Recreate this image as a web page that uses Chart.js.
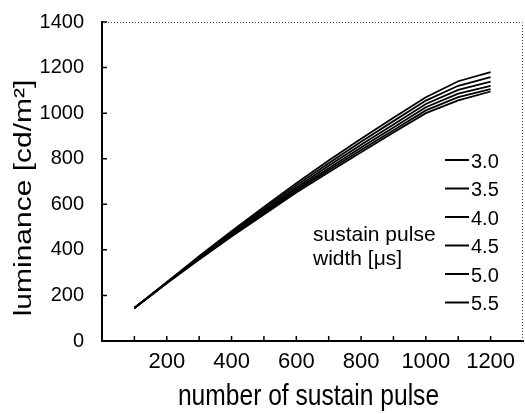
<!DOCTYPE html>
<html>
<head>
<meta charset="utf-8">
<script src="https://cdn.jsdelivr.net/npm/chart.js@4"></script>
<style>
  html, body { margin: 0; padding: 0; background: #fff; }
  #wrap { width: 525px; height: 414px; }
</style>
</head>
<body>
<div id="wrap"><canvas id="lumChart" width="525" height="414"></canvas></div>
<script>
// ---- data ----
const pulses = [100, 200, 300, 400, 500, 600, 700, 800, 900, 1000, 1100, 1200];
const widthLabels = ['3.0', '3.5', '4.0', '4.5', '5.0', '5.5'];
const lum30 = [145, 258, 372, 482, 588, 692, 792, 888, 980, 1070, 1140, 1180];
const lum35 = [145, 257, 369, 477, 581, 683, 780, 874, 965, 1055, 1120, 1158];
const lum40 = [145, 256, 366, 472, 574, 674, 769, 861, 950, 1040, 1102, 1138];
const lum45 = [145, 255, 363, 467, 567, 666, 758, 849, 937, 1026, 1086, 1120];
const lum50 = [145, 254, 361, 463, 561, 659, 749, 838, 925, 1012, 1070, 1105];
const lum55 = [145, 253, 358, 459, 555, 652, 741, 828, 915, 1000, 1056, 1095];
const xTitle = 'number of sustain pulse';
const yTitle = 'luminance [cd/m\u00B2]';
const legendTitle = ['sustain pulse', 'width [\u03BCs]'];

const FONT = "'Liberation Sans', Arial, sans-serif";
const series = [lum30, lum35, lum40, lum45, lum50, lum55];

// ticks pointing into the plot, frame on top/right, titles, legend
const decorations = {
    id: 'decorations',
    afterDraw(chart) {
        const { ctx, chartArea: a, scales: { x, y } } = chart;
        ctx.save();

        // dotted frame top + right
        ctx.strokeStyle = '#444';
        ctx.lineWidth = 1;
        ctx.setLineDash([1, 2]);
        ctx.beginPath();
        ctx.moveTo(a.left, a.top + 0.5);
        ctx.lineTo(a.right - 0.5, a.top + 0.5);
        ctx.lineTo(a.right - 0.5, a.bottom);
        ctx.stroke();
        ctx.setLineDash([]);

        // inward ticks
        ctx.strokeStyle = '#000';
        ctx.lineWidth = 1.5;
        ctx.beginPath();
        x.ticks.forEach(t => {
            if (t.value <= x.min || t.value >= x.max) return;
            const px = x.getPixelForValue(t.value);
            ctx.moveTo(px, a.bottom);
            ctx.lineTo(px, a.bottom - 5);
        });
        y.ticks.forEach(t => {
            if (t.value <= y.min) return;
            const py = y.getPixelForValue(t.value);
            ctx.moveTo(a.left, py);
            ctx.lineTo(a.left + 5, py);
        });
        ctx.stroke();

        // axis titles (scan is a bit squashed horizontally)
        ctx.fillStyle = '#000';
        ctx.textAlign = 'center';
        ctx.textBaseline = 'middle';
        ctx.font = '30px ' + FONT;

        ctx.save();
        ctx.translate((a.left + a.right) / 2 - 4, 397);
        ctx.scale(0.82, 1);
        ctx.fillText(xTitle, 0, 0);
        ctx.restore();

        ctx.save();
        ctx.translate(24, 198);
        ctx.rotate(-Math.PI / 2);
        ctx.scale(1, 0.8);
        ctx.fillText(yTitle, 0, 0);
        ctx.restore();

        // legend
        ctx.font = '20px ' + FONT;
        ctx.textAlign = 'left';
        ctx.lineWidth = 2;
        widthLabels.forEach((lab, i) => {
            const ly = 160 + i * 28.5;
            ctx.beginPath();
            ctx.moveTo(a.right - 78, ly);
            ctx.lineTo(a.right - 54, ly);
            ctx.stroke();
            ctx.fillText(lab, a.right - 52, ly + 2);
        });
        ctx.font = '21px ' + FONT;
        ctx.fillText(legendTitle[0], 313, 235);
        ctx.fillText(legendTitle[1], 313, 259);

        ctx.restore();
    }
};

const ctx = document.getElementById('lumChart').getContext('2d');
new Chart(ctx, {
    type: 'line',
    data: {
        datasets: series.map((s, i) => ({
            label: widthLabels[i],
            data: pulses.map((p, j) => ({ x: p, y: s[j] })),
            borderColor: '#000',
            borderWidth: 1.8,
            tension: 0,
            pointRadius: 0
        }))
    },
    options: {
        responsive: false,
        animation: false,
        layout: { padding: { top: 13, right: 2, left: 0, bottom: 0 } },
        plugins: { legend: { display: false }, tooltip: { enabled: false } },
        scales: {
            x: {
                type: 'linear',
                min: 0, max: 1300,
                grid: { display: false },
                border: { display: true, color: '#000', width: 2 },
                ticks: {
                    stepSize: 100,
                    autoSkip: false,
                    maxRotation: 0,
                    padding: 0,
                    color: '#000',
                    font: { family: FONT, size: 22 },
                    callback: v => (v > 0 && v < 1300 && v % 200 === 0) ? String(v) : ''
                },
                afterFit: s => { s.height = 73; }
            },
            y: {
                min: 0, max: 1400,
                grid: { display: false },
                border: { display: true, color: '#000', width: 2 },
                ticks: {
                    stepSize: 200,
                    padding: 10,
                    color: '#000',
                    font: { family: FONT, size: 20 },
                    callback: v => String(v)
                },
                afterFit: s => { s.width = 102; }
            }
        }
    },
    plugins: [decorations]
});
</script>
</body>
</html>
